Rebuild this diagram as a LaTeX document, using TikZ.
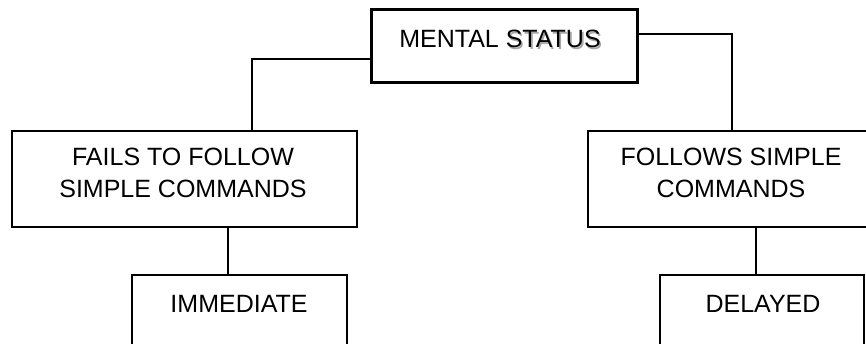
\documentclass[tikz,border=0pt]{standalone}
\usepackage{fontspec}
\setmainfont{Liberation Sans}
\usetikzlibrary{positioning}
\newcommand{\shadowword}[1]{\makebox[0pt][l]{\hspace{1.6pt}\raisebox{-1.6pt}{\textcolor{black!35}{#1}}}#1}
\begin{document}
\begin{tikzpicture}[x=1pt,y=-1pt,
  box/.style={draw=black,line width=1.4pt,rectangle,inner sep=0pt},
  topbox/.style={box,line width=3pt},
  txt/.style={anchor=base,inner sep=0pt,font=\fontsize{25}{30}\selectfont},
  link/.style={draw=black,line width=1.4pt}]
\useasboundingbox (0,0) rectangle (866,344);
% boxes
\node[topbox,minimum width=266pt,minimum height=73pt] (ms) at (504,46.5) {};
\node[box,minimum width=345pt,minimum height=96pt] (fail) at (184.5,179) {};
\node[box,minimum width=286pt,minimum height=96pt] (follow) at (731,179) {};
\node[box,minimum width=215pt,minimum height=85pt] (imm) at (239.5,317.5) {};
\node[box,minimum width=204pt,minimum height=85pt] (del) at (762,317.5) {};
% labels
\node[txt] (msT) at (500,48) {MENTAL \shadowword{STATUS}};
\node[txt] (failA) at (183,166) {FAILS TO FOLLOW};
\node[txt] (failB) at (183,198) {SIMPLE COMMANDS};
\node[txt] (folA) at (731,166) {FOLLOWS SIMPLE};
\node[txt] (folB) at (731,198) {COMMANDS};
\node[txt] (immT) at (239,312) {IMMEDIATE};
\node[txt] (delT) at (763,312) {DELAYED};
% connectors
\draw[link] (ms.west |- 0,59) -| (fail.north -| 252,0);
\draw[link] (ms.east |- 0,34) -| (follow.north -| 732,0);
\draw[link] (fail.south -| 228,0) -- (imm.north -| 228,0);
\draw[link] (follow.south -| 756,0) -- (del.north -| 756,0);
\end{tikzpicture}
\end{document}
